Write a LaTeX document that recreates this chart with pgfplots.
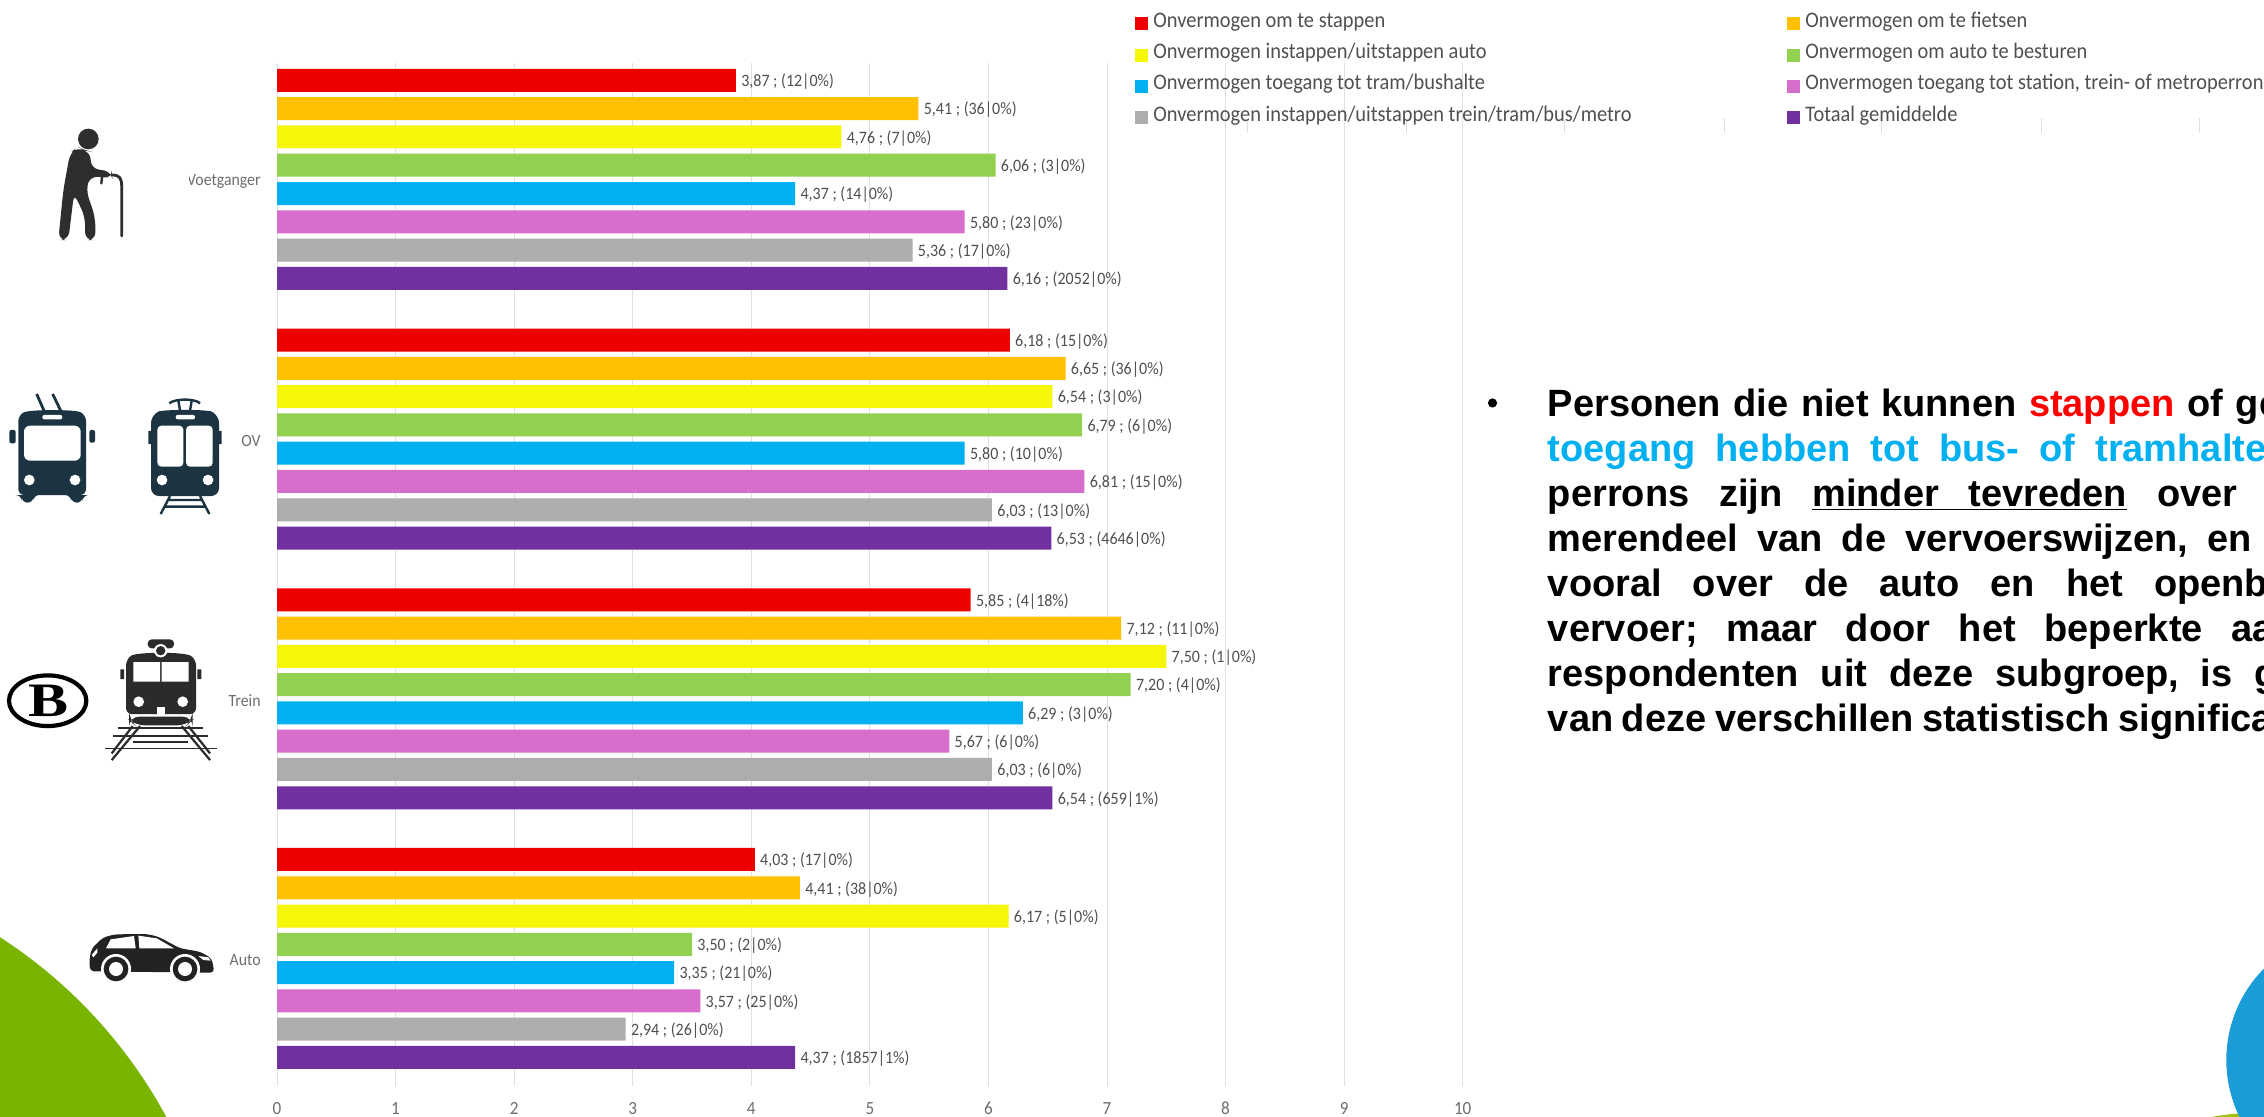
\documentclass[border=0pt]{standalone}
\usepackage{pgfplots}
\pgfplotsset{compat=1.18}
\usepackage{fontspec}
\setmainfont{Carlito}
\newfontfamily\narrow[FakeStretch=0.92]{Carlito}
\newfontfamily\bodyfont{Liberation Sans}
\newfontfamily\logofont{Liberation Serif}
\definecolor{cStap}{HTML}{EE0000}
\definecolor{cFiets}{HTML}{FFC000}
\definecolor{cAuto}{HTML}{F6F608}
\definecolor{cBest}{HTML}{92D050}
\definecolor{cHalte}{HTML}{00B0F0}
\definecolor{cPerron}{HTML}{D86ECC}
\definecolor{cTrein}{HTML}{ADADAD}
\definecolor{cTotaal}{HTML}{7030A0}
\definecolor{cGrid}{HTML}{E0E0E0}
\definecolor{cLabel}{HTML}{505050}
\definecolor{cAxis}{HTML}{6E6E6E}
\definecolor{cLeaf}{HTML}{78B400}
\definecolor{cLime}{HTML}{9DC30A}
\definecolor{cSky}{HTML}{1A9CD8}
% a semicolon that survives pgfplots' point serialisation
\chardef\sc=59
\newcommand{\legtext}[1]{\textcolor{cLabel}{\hspace{2.5pt}#1\rule[-5pt]{0pt}{15.65pt}}}
% one text line of the commentary: interword space, baseline y, content
\newcommand{\bodyline}[3]{\node[anchor=base west,inner sep=0pt,font=\bodyfont\bfseries\fontsize{19}{23}\selectfont] at (1547.5,#2) {\spaceskip=#1\relax #3};}
\begin{document}
\begin{tikzpicture}
\useasboundingbox (0,0) rectangle (1132pt,558.5pt);
\clip (0,0) rectangle (1132pt,558.5pt);
\fill[white] (0,0) rectangle (1132pt,558.5pt);
% page decoration, commentary and pictograms, in pixel units measured from the top left
\begin{scope}[shift={(0,558.5pt)},x=0.5pt,y=-0.5pt]
  \fill[cLeaf] (-266,1350) circle (491);
  \fill[cLime] (2207,1118) .. controls (2220,1115) and (2232,1114) .. (2245,1113) -- (2264,1118) -- cycle;
  \fill[cSky] (2356,1060) circle (129.7);
  % gridlines of the panel behind the legend
  \foreach \gx/\gy in {1247/120,1406/120,1564/120,1724/118,1881/118,2041/118,2199/118}
    \draw[cGrid,line width=0.5pt] (\gx,\gy) -- (\gx,133);
  % commentary
  \fill[black] (1492.5,403) circle (4.6);
  \bodyline{6.3pt}{416.5}{Personen die niet kunnen \textcolor[HTML]{FF0000}{stappen} of geen}
  \bodyline{10pt}{461.5}{\textcolor[HTML]{00B0F0}{toegang hebben tot bus- of tramhaltes}}
  \bodyline{14.9pt}{506.5}{perrons zijn $\underline{\hbox{minder tevreden}}$ over het}
  \bodyline{9.6pt}{551.5}{merendeel van de vervoerswijzen, en dan}
  \bodyline{15.5pt}{596.5}{vooral over de auto en het openbaar}
  \bodyline{14.3pt}{641.5}{vervoer; maar door het beperkte aantal}
  \bodyline{10.9pt}{686.5}{respondenten uit deze subgroep, is geen}
  \bodyline{4.3pt}{731.5}{van deze verschillen statistisch significant}
  % walker with a cane
  \begin{scope}[shift={(0,100)},x=0.1667pt,y=-0.1667pt]
    \definecolor{ic}{HTML}{2E2E2E}
    \fill[ic] (265,117) circle (31);
    \fill[ic,rounded corners=4pt] (232,140) -- (255,152) -- (272,155) -- (272,205) -- (335,215) -- (337,235) -- (270,228) -- (258,270) -- (285,350) -- (287,420) -- (255,420) -- (255,350) -- (222,280) -- (205,420) -- (175,420) -- (190,270) -- (210,160) -- cycle;
    \draw[ic,line width=1.4pt,line cap=round] (335,225) .. controls (360,225) and (365,235) .. (365,260) -- (365,408);
    \draw[ic,line width=1.2pt,line cap=round] (306,232) -- (304,250);
  \end{scope}
  % trolleybus, tram, train and railway logo
  \begin{scope}[shift={(0,370)},x=0.1667pt,y=-0.1667pt]
    \definecolor{ic}{HTML}{1C3342}
    \draw[ic,line width=1.4pt] (110,72) -- (132,122) (158,72) -- (182,122);
    \fill[ic,rounded corners=3pt] (55,135) .. controls (90,118) and (225,118) .. (258,135) -- (258,375) -- (248,375) -- (248,398) -- (213,398) -- (213,375) -- (100,375) -- (100,398) -- (65,398) -- (65,375) -- (55,375) -- cycle;
    \fill[ic,rounded corners=1pt] (28,180) rectangle (47,220) (268,180) rectangle (285,218);
    \fill[white,rounded corners=3pt] (72,167) rectangle (242,272);
    \fill[white,rounded corners=1pt] (127,135) rectangle (187,148);
    \fill[white] (88,330) circle (16) (225,330) circle (16);
    \draw[ic,line width=1.2pt] (508,100) .. controls (525,85) and (585,85) .. (600,100) (535,92) -- (540,122) (575,92) -- (570,122);
    \fill[ic,rounded corners=4pt] (453,135) .. controls (490,118) and (620,118) .. (657,135) -- (657,378) -- (453,378) -- cycle;
    \fill[ic] (445,183) rectangle (453,222) (657,183) rectangle (665,222);
    \fill[white,rounded corners=2pt] (472,167) rectangle (550,290) (558,167) rectangle (638,290);
    \fill[white,rounded corners=1pt] (527,135) rectangle (585,148);
    \fill[white] (486,330) circle (16) (624,330) circle (16);
    \draw[ic,line width=1.2pt] (510,378) -- (482,432) (600,378) -- (628,432) (505,390) -- (605,390) (495,410) -- (615,410);
    \definecolor{ic}{HTML}{2B2B2E}
    \fill[ic,rounded corners=2pt] (443,808) rectangle (522,835);
    \fill[ic,rounded corners=3pt] (378,868) .. controls (410,845) and (555,845) .. (588,868) -- (588,1032) -- (378,1032) -- cycle;
    \fill[ic] (361,898) rectangle (372,927) (592,898) rectangle (604,927);
    \fill[ic,rounded corners=5pt] (387,1040) -- (578,1040) -- (578,1050) -- (560,1066) -- (405,1066) -- (387,1050) -- cycle;
    \fill[white] (482,842) circle (20);
    \fill[ic] (482,842) circle (14);
    \fill[white] (400,876) rectangle (480,935) (485,876) rectangle (566,935);
    \fill[white] (416,995) circle (16) (548,995) circle (16);
    \fill[white] (470,1012) rectangle (495,1035);
    \draw[ic,line width=1.1pt] (420,1068) -- (335,1170) (398,1068) -- (335,1150) (545,1068) -- (630,1170) (565,1068) -- (630,1150);
    \draw[ic,line width=0.9pt] (355,1075) -- (610,1075) (338,1097) -- (625,1097) (400,1115) -- (565,1115) (315,1135) -- (650,1135);
    \draw[black,line width=2.1pt] (143,992) ellipse (116 and 76);
    \node[text=black,inner sep=0pt,xscale=1.25] at (145,992) {\logofont\bfseries\fontsize{24}{26}\selectfont B};
  \end{scope}
  % car
  \begin{scope}[shift={(0,900)},x=0.1667pt,y=-0.1667pt]
    \definecolor{ic}{HTML}{222222}
    \fill[ic,rounded corners=2pt] (268,178) -- (275,145) -- (310,112) -- (345,103) -- (440,102) -- (475,110) -- (540,145) -- (600,155) -- (635,175) -- (643,218) -- (270,214) -- cycle;
    \fill[white] (348,207) circle (45) (555,207) circle (45);
    \fill[ic] (348,207) circle (37) (555,207) circle (37);
    \fill[white] (348,207) circle (21) (555,207) circle (21);
    \fill[white] (318,145) -- (332,118) -- (402,108) -- (407,145) -- cycle (415,107) -- (470,115) -- (522,145) -- (418,145) -- cycle;
    \fill[white] (275,165) -- (292,145) -- (292,158) -- (280,172) -- cycle (595,168) -- (625,172) -- (632,182) -- (610,180) -- cycle;
  \end{scope}
\end{scope}

\begin{axis}[
  at={(138.5pt,15.5pt)},anchor=south west,
  x=59.285pt,y=129.85pt,
  xmin=0,xmax=10,ymin=-0.491,ymax=3.448,
  xbar,bar width=11.5pt,
  xmajorgrids,grid style={cGrid,line width=0.5pt},
  axis line style={draw=none},
  major tick length=0pt,
  xtick={0,1,2,3,4,5,6,7,8,9,10},
  ytick={0,1,2,3},
  yticklabels={Auto,Trein,OV,Voetganger},
  xticklabel style={font=\narrow\fontsize{9.3}{11}\selectfont,text=cAxis,yshift=-4.6pt},
  yticklabel style={font=\narrow\fontsize{8.6}{11}\selectfont,text=cAxis,inner xsep=8pt,yshift=-1pt},
  /pgf/number format/assume math mode=true,
  point meta=explicit symbolic,
  nodes near coords,
  every node near coord/.append style={anchor=west,inner xsep=2.5pt,inner ysep=0pt,yshift=-0.7pt,font=\narrow\fontsize{8.7}{10}\selectfont,text=cLabel},
  legend columns=2,
  legend cell align=left,
  legend style={at={(axis description cs:0.7236,1.0563)},anchor=north west,draw=none,fill=none,inner sep=0pt,row sep=3.4pt,nodes={inner sep=0pt,anchor=base west,font=\narrow\fontsize{11.1}{13}\selectfont}},
  legend image code/.code={\fill[#1] (0pt,-1.6pt) rectangle (6.5pt,4.9pt);},
]
\addplot[fill=cStap,draw=none,bar shift=49.5pt] coordinates {
  (3.87,3)[3,87 \sc{} (12|0\%)] (6.18,2)[6,18 \sc{} (15|0\%)] (5.85,1)[5,85 \sc{} (4|18\%)] (4.03,0)[4,03 \sc{} (17|0\%)]};
\addlegendentry{\makebox[319.5pt][l]{\legtext{Onvermogen om te stappen}}}
\addplot[fill=cFiets,draw=none,bar shift=35.36pt] coordinates {
  (5.41,3)[5,41 \sc{} (36|0\%)] (6.65,2)[6,65 \sc{} (36|0\%)] (7.12,1)[7,12 \sc{} (11|0\%)] (4.41,0)[4,41 \sc{} (38|0\%)]};
\addlegendentry{\legtext{Onvermogen om te fietsen}}
\addplot[fill=cAuto,draw=none,bar shift=21.21pt] coordinates {
  (4.76,3)[4,76 \sc{} (7|0\%)] (6.54,2)[6,54 \sc{} (3|0\%)] (7.50,1)[7,50 \sc{} (1|0\%)] (6.17,0)[6,17 \sc{} (5|0\%)]};
\addlegendentry{\makebox[319.5pt][l]{\legtext{Onvermogen instappen/uitstappen auto}}}
\addplot[fill=cBest,draw=none,bar shift=7.07pt] coordinates {
  (6.06,3)[6,06 \sc{} (3|0\%)] (6.79,2)[6,79 \sc{} (6|0\%)] (7.20,1)[7,20 \sc{} (4|0\%)] (3.50,0)[3,50 \sc{} (2|0\%)]};
\addlegendentry{\legtext{Onvermogen om auto te besturen}}
\addplot[fill=cHalte,draw=none,bar shift=-7.07pt] coordinates {
  (4.37,3)[4,37 \sc{} (14|0\%)] (5.80,2)[5,80 \sc{} (10|0\%)] (6.29,1)[6,29 \sc{} (3|0\%)] (3.35,0)[3,35 \sc{} (21|0\%)]};
\addlegendentry{\makebox[319.5pt][l]{\legtext{Onvermogen toegang tot tram/bushalte}}}
\addplot[fill=cPerron,draw=none,bar shift=-21.21pt] coordinates {
  (5.80,3)[5,80 \sc{} (23|0\%)] (6.81,2)[6,81 \sc{} (15|0\%)] (5.67,1)[5,67 \sc{} (6|0\%)] (3.57,0)[3,57 \sc{} (25|0\%)]};
\addlegendentry{\legtext{Onvermogen toegang tot station, trein- of metroperron}}
\addplot[fill=cTrein,draw=none,bar shift=-35.36pt] coordinates {
  (5.36,3)[5,36 \sc{} (17|0\%)] (6.03,2)[6,03 \sc{} (13|0\%)] (6.03,1)[6,03 \sc{} (6|0\%)] (2.94,0)[2,94 \sc{} (26|0\%)]};
\addlegendentry{\makebox[319.5pt][l]{\legtext{Onvermogen instappen/uitstappen trein/tram/bus/metro}}}
\addplot[fill=cTotaal,draw=none,bar shift=-49.5pt] coordinates {
  (6.16,3)[6,16 \sc{} (2052|0\%)] (6.53,2)[6,53 \sc{} (4646|0\%)] (6.54,1)[6,54 \sc{} (659|1\%)] (4.37,0)[4,37 \sc{} (1857|1\%)]};
\addlegendentry{\legtext{Totaal gemiddelde}}
\end{axis}
% the first letter of the top category label is partly covered on the page
\fill[white] (75pt,456pt) rectangle (94.5pt,480pt);
\end{tikzpicture}
\end{document}
